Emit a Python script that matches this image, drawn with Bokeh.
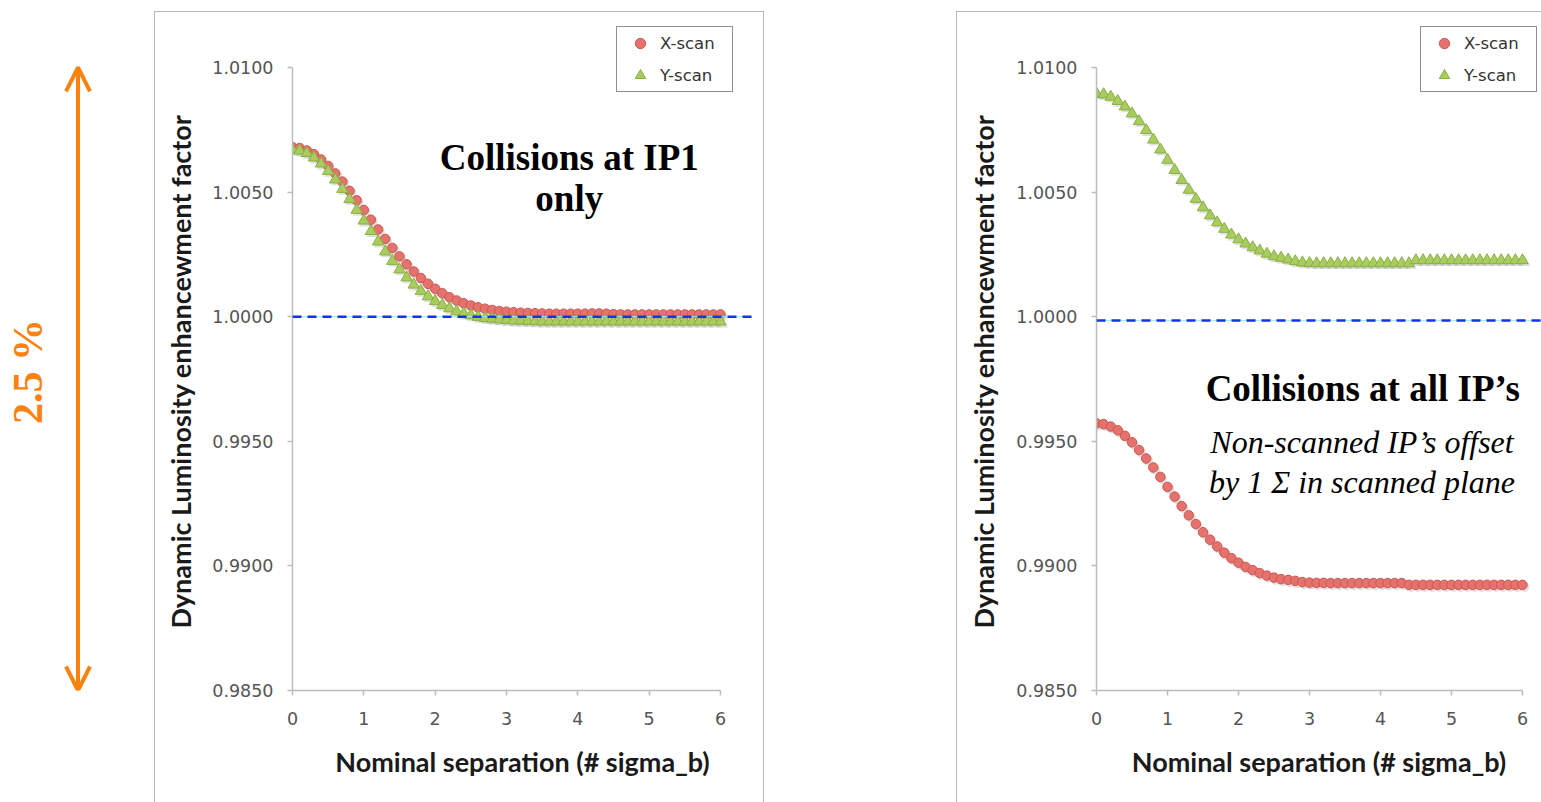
from bokeh.plotting import figure
from bokeh.layouts import row, column
from bokeh.models import (Range1d, Span, Label, Arrow, OpenHead, Legend, LegendItem,
                          FixedTicker, Spacer, ColumnDataSource, NumeralTickFormatter)
from bokeh.transform import dodge
from bokeh.embed import file_html
from bokeh.resources import INLINE
import math

# ---------------- data ----------------
separation = [0.0, 0.1, 0.2, 0.3, 0.4, 0.5, 0.6, 0.7, 0.8, 0.9,
              1.0, 1.1, 1.2, 1.3, 1.4, 1.5, 1.6, 1.7, 1.8, 1.9,
              2.0, 2.1, 2.2, 2.3, 2.4, 2.5, 2.6, 2.7, 2.8, 2.9,
              3.0, 3.1, 3.2, 3.3, 3.4, 3.5, 3.6, 3.7, 3.8, 3.9,
              4.0, 4.1, 4.2, 4.3, 4.4, 4.5, 4.6, 4.7, 4.8, 4.9,
              5.0, 5.1, 5.2, 5.3, 5.4, 5.5, 5.6, 5.7, 5.8, 5.9, 6.0]

# Left panel: collisions at IP1 only
ip1_xscan = [1.00680, 1.00677, 1.00667, 1.00652, 1.00631, 1.00605, 1.00575, 1.00542, 1.00505, 1.00467,
             1.00428, 1.00389, 1.00350, 1.00312, 1.00276, 1.00242, 1.00210, 1.00181, 1.00155, 1.00132,
             1.00112, 1.00094, 1.00078, 1.00065, 1.00054, 1.00045, 1.00038, 1.00032, 1.00027, 1.00023,
             1.00020, 1.00018, 1.00016, 1.00015, 1.00014, 1.00013, 1.00012, 1.00012, 1.00012, 1.00012,
             1.00012, 1.00012, 1.00013, 1.00013, 1.00012, 1.00010, 1.00009, 1.00009, 1.00009, 1.00009,
             1.00009, 1.00009, 1.00009, 1.00009, 1.00009, 1.00009, 1.00009, 1.00009, 1.00009, 1.00009, 1.00009]
ip1_yscan = [1.00670, 1.00666, 1.00656, 1.00638, 1.00614, 1.00584, 1.00550, 1.00512, 1.00471, 1.00428,
             1.00385, 1.00343, 1.00301, 1.00261, 1.00223, 1.00189, 1.00157, 1.00128, 1.00103, 1.00081,
             1.00062, 1.00046, 1.00033, 1.00021, 1.00012, 1.00005, 0.99999, 0.99994, 0.99991, 0.99988,
             0.99986, 0.99984, 0.99983, 0.99982, 0.99981, 0.99980, 0.99980, 0.99980, 0.99980, 0.99980,
             0.99980, 0.99980, 0.99980, 0.99980, 0.99980, 0.99980, 0.99980, 0.99980, 0.99980, 0.99980,
             0.99980, 0.99980, 0.99980, 0.99980, 0.99980, 0.99980, 0.99980, 0.99980, 0.99980, 0.99980, 0.99980]

# Right panel: collisions at all IPs
all_xscan = [0.99572, 0.99569, 0.99559, 0.99544, 0.99522, 0.99496, 0.99465, 0.99431, 0.99395, 0.99357,
             0.99317, 0.99278, 0.99240, 0.99203, 0.99168, 0.99135, 0.99105, 0.99078, 0.99053, 0.99031,
             0.99013, 0.98996, 0.98983, 0.98971, 0.98961, 0.98953, 0.98947, 0.98944, 0.98940, 0.98935,
             0.98933, 0.98932, 0.98932, 0.98931, 0.98931, 0.98931, 0.98931, 0.98931, 0.98931, 0.98931,
             0.98931, 0.98931, 0.98931, 0.98931, 0.98924, 0.98924, 0.98924, 0.98924, 0.98924, 0.98924,
             0.98924, 0.98924, 0.98924, 0.98924, 0.98924, 0.98924, 0.98924, 0.98924, 0.98924, 0.98924, 0.98924]
all_yscan = [1.00895, 1.00892, 1.00882, 1.00865, 1.00843, 1.00815, 1.00784, 1.00748, 1.00710, 1.00670,
             1.00629, 1.00588, 1.00548, 1.00509, 1.00472, 1.00438, 1.00406, 1.00378, 1.00352, 1.00329,
             1.00310, 1.00293, 1.00278, 1.00265, 1.00252, 1.00242, 1.00236, 1.00229, 1.00222, 1.00217,
             1.00215, 1.00214, 1.00214, 1.00214, 1.00214, 1.00214, 1.00214, 1.00214, 1.00214, 1.00214,
             1.00214, 1.00214, 1.00214, 1.00214, 1.00214, 1.00226, 1.00226, 1.00226, 1.00226, 1.00226,
             1.00226, 1.00226, 1.00226, 1.00226, 1.00226, 1.00226, 1.00226, 1.00226, 1.00226, 1.00226, 1.00226]

reference_left = 1.0000
reference_right = 0.99985

x_ticks = [0, 1, 2, 3, 4, 5, 6]
y_ticks = [0.985, 0.990, 0.995, 1.000, 1.005, 1.010]
y_min, y_max = 0.985, 1.010
series_names = ["X-scan", "Y-scan"]
x_title = "Nominal separation (# sigma_b)"
y_title = "Dynamic Luminosity enhancewment factor"

# ---------------- style ----------------
RED_FILL, RED_LINE = "#E6726D", "#CC5852"
GREEN_FILL, GREEN_LINE = "#A9CC5E", "#8AB044"
ORANGE = "#FA820F"
Y_TOP = 1.011885
H = 802
TOP_GAP = 12
TITLE_W = 50


def make_title_fig(yr, xpos):
    t = figure(width=TITLE_W, height=H - TOP_GAP, x_range=Range1d(0, 1), y_range=yr,
               min_border_left=0, min_border_right=0, min_border_top=8, min_border_bottom=112,
               x_axis_type=None, y_axis_type=None, toolbar_location=None, output_backend="svg")
    t.grid.visible = False
    t.outline_line_color = None
    t.background_fill_color = "white"
    t.border_fill_color = "white"
    t.add_layout(Label(x=xpos, y=0.99780, text=y_title, angle=math.pi / 2,
                       text_align="center", text_baseline="middle",
                       text_font="Lato", text_font_style="bold",
                       text_font_size="27px", text_color="#1a1a1a"))
    return t


def make_panel(xs, red, green, ref, width, border_left, border_right, x_end, title_x):
    yr = Range1d(y_min, Y_TOP)
    p = figure(width=width - TITLE_W, height=H - TOP_GAP,
               x_range=Range1d(0, x_end), y_range=yr,
               min_border_left=border_left - TITLE_W, min_border_right=border_right,
               min_border_top=8, min_border_bottom=112,
               toolbar_location=None, output_backend="svg")
    p.grid.visible = False
    p.outline_line_color = None
    p.background_fill_color = "white"
    p.border_fill_color = "white"

    for ax in (p.xaxis[0], p.yaxis[0]):
        ax.axis_line_color = "#bdbdbd"
        ax.axis_line_width = 1.5
        ax.major_tick_line_color = "#bdbdbd"
        ax.major_tick_line_width = 1.5
        ax.major_tick_out = 5
        ax.major_tick_in = 0
        ax.minor_tick_line_color = None
        ax.major_label_text_font = "DejaVu Sans"
        ax.major_label_text_font_size = "17.5px"
        ax.major_label_text_color = "#555555"
        ax.axis_label_text_font = "Lato"
        ax.axis_label_text_font_style = "bold"
        ax.axis_label_text_font_size = "27px"
        ax.axis_label_text_color = "#1a1a1a"

    p.xaxis.ticker = FixedTicker(ticks=x_ticks)
    p.xaxis.bounds = (0, 6)
    p.xaxis.major_label_standoff = 16
    p.xaxis.axis_label = x_title
    p.xaxis.axis_label_standoff = 17

    p.yaxis.ticker = FixedTicker(ticks=y_ticks)
    p.yaxis.bounds = (y_min, y_max)
    p.yaxis.formatter = NumeralTickFormatter(format="0.0000")
    p.yaxis.major_label_standoff = 14

    p.add_layout(Span(location=ref, dimension="width", line_color="#8ff0f0", line_width=1))
    p.add_layout(Span(location=ref, dimension="width", line_color="#1733e6",
                      line_width=2.5, line_dash="9 6"))

    src = ColumnDataSource(dict(x=xs, red=red, green=green))
    # soft drop shadows under the markers
    p.scatter(dodge("x", 0.025), dodge("red", -0.00009), source=src, marker="circle", size=10,
              fill_color="#707070", fill_alpha=0.22, line_color=None)
    p.scatter(dodge("x", 0.025), dodge("green", -0.00009), source=src, marker="triangle", size=12,
              fill_color="#707070", fill_alpha=0.22, line_color=None)
    r1 = p.scatter("x", "red", source=src, marker="circle", size=9.5,
                   fill_color=RED_FILL, line_color=RED_LINE, line_width=1)
    r2 = p.scatter("x", "green", source=src, marker="triangle", size=11.5,
                   fill_color=GREEN_FILL, line_color=GREEN_LINE, line_width=1)

    leg = Legend(items=[LegendItem(label=series_names[0], renderers=[r1]),
                        LegendItem(label=series_names[1], renderers=[r2])],
                 location=(324, 598))
    leg.border_line_color = "#222222"
    leg.border_line_width = 1.5
    leg.background_fill_color = "white"
    leg.background_fill_alpha = 1
    leg.padding = 3
    leg.spacing = 6
    leg.margin = 0
    leg.glyph_width = 40
    leg.glyph_height = 26
    leg.label_height = 26
    leg.label_width = 69
    leg.label_standoff = 0
    leg.label_text_font = "DejaVu Sans"
    leg.label_text_font_size = "16.5px"
    leg.label_text_color = "#333333"
    p.add_layout(leg)

    t = make_title_fig(yr, title_x)
    panel = row(t, p, styles={"outline": "1.5px solid #b9b9b9"})
    return p, panel


# ---------------- left: arrow figure ----------------
arrow_fig = figure(width=155, height=H, x_range=Range1d(0, 1), y_range=Range1d(y_min, Y_TOP),
                   min_border_top=20, min_border_bottom=112, min_border_left=0, min_border_right=0,
                   x_axis_type=None, y_axis_type=None, toolbar_location=None, output_backend="svg")
arrow_fig.grid.visible = False
arrow_fig.outline_line_color = None
arrow_fig.background_fill_color = None
arrow_fig.border_fill_color = None
arrow_fig.add_layout(Arrow(x_start=0.5, y_start=y_min, x_end=0.5, y_end=y_max,
                           line_color=ORANGE, line_width=4,
                           start=OpenHead(size=24, line_color=ORANGE, line_width=4),
                           end=OpenHead(size=24, line_color=ORANGE, line_width=4)))
arrow_fig.add_layout(Label(x=0.175, y=0.99780, text="2.5 %", angle=math.pi / 2,
                           text_align="center", text_baseline="middle",
                           text_font="Liberation Serif", text_font_style="bold",
                           text_font_size="42px", text_color=ORANGE))

# ---------------- panels ----------------
left, left_panel = make_panel(separation, ip1_xscan, ip1_yscan, reference_left,
                              width=608, border_left=137, border_right=11, x_end=6.449,
                              title_x=0.5)
left.add_layout(Label(x=3.88, y=1.00556, text="Collisions at IP1\nonly",
                      text_align="center", text_baseline="middle", text_line_height=1.01,
                      text_font="Liberation Serif", text_font_style="bold",
                      text_font_size="37px", text_color="black"))

right, right_panel = make_panel(separation, all_xscan, all_yscan, reference_right,
                                width=584, border_left=139, border_right=0, x_end=6.268,
                                title_x=0.52)
right.add_layout(Label(x=3.75, y=0.99712, text="Collisions at all IP’s",
                       text_align="center", text_baseline="middle",
                       text_font="Liberation Serif", text_font_style="bold",
                       text_font_size="37px", text_color="black"))
right.add_layout(Label(x=3.74, y=0.99417, text="Non-scanned IP’s offset\nby 1 Σ in scanned plane",
                       text_align="center", text_baseline="middle", text_line_height=1.12,
                       text_font="Liberation Serif", text_font_style="italic",
                       text_font_size="32px", text_color="black"))

left_col = column(Spacer(width=608, height=TOP_GAP), left_panel)
right_col = column(Spacer(width=584, height=TOP_GAP), right_panel)
layout = row(arrow_fig, left_col, Spacer(width=194, height=H), right_col)

with open("out.html", "w") as f:
    f.write(file_html(layout, INLINE))
